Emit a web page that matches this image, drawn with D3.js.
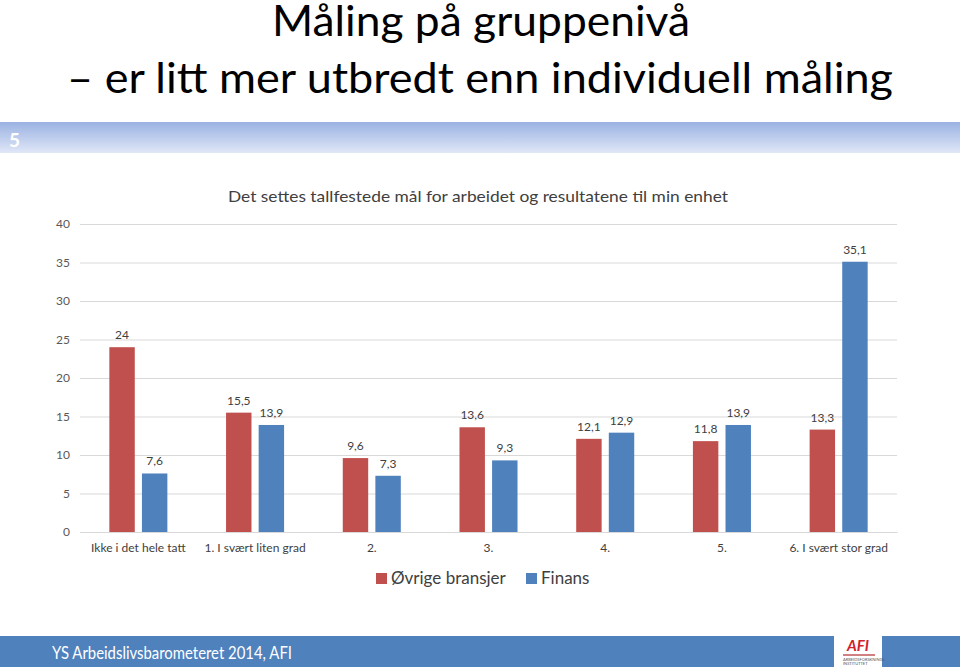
<!DOCTYPE html>
<html><head><meta charset="utf-8">
<script src="https://cdn.jsdelivr.net/npm/d3@7"></script>
<style>body{margin:0;background:#fff}svg{display:block}</style>
</head><body>
<script>
const categories = ["Ikke i det hele tatt","1. I svært liten grad","2.","3.","4.","5.","6. I svært stor grad"];
const ovrige = [24, 15.5, 9.6, 13.6, 12.1, 11.8, 13.3];
const finans = [7.6, 13.9, 7.3, 9.3, 12.9, 13.9, 35.1];
const seriesNames = ["Øvrige bransjer","Finans"];
const yTicks = [0,5,10,15,20,25,30,35,40];

(function(){
const W=960,H=671;
const font = "Lato, 'Open Sans', sans-serif";
const svg = d3.select("body").append("svg").attr("width",W).attr("height",H);

// Title
svg.append("text").attr("x",272).attr("y",36)
  .attr("font-family",font).attr("font-size",43).attr("fill","#000")
  .attr("textLength",418).attr("lengthAdjust","spacingAndGlyphs").text("Måling på gruppenivå");
svg.append("text").attr("x",67).attr("y",93)
  .attr("font-family",font).attr("font-size",43).attr("fill","#000")
  .attr("textLength",826).attr("lengthAdjust","spacingAndGlyphs").text("– er litt mer utbredt enn individuell måling");

// Header band
const defs = svg.append("defs");
const g1 = defs.append("linearGradient").attr("id","band").attr("x1",0).attr("y1",0).attr("x2",0).attr("y2",1);
g1.append("stop").attr("offset","0%").attr("stop-color","#9ab2e2");
g1.append("stop").attr("offset","100%").attr("stop-color","#e0e7f7");
svg.append("rect").attr("x",0).attr("y",122).attr("width",W).attr("height",31).attr("fill","url(#band)");
svg.append("text").attr("x",9).attr("y",147).attr("font-family",font).attr("font-weight","bold")
  .attr("font-size",19).attr("fill","#fff").text("5");

// Footer
svg.append("rect").attr("x",0).attr("y",636).attr("width",W).attr("height",31).attr("fill","#4f81bd");
svg.append("text").attr("x",52).attr("y",659).attr("font-family",font).attr("font-size",17)
  .attr("textLength",240).attr("lengthAdjust","spacingAndGlyphs")
  .attr("fill","#fff").text("YS Arbeidslivsbarometeret 2014, AFI");
svg.append("rect").attr("x",834).attr("y",636).attr("width",48).attr("height",31).attr("fill","#fff");
svg.append("text").attr("x",858).attr("y",651).attr("text-anchor","middle").attr("font-family",font)
  .attr("font-style","italic").attr("font-weight","bold").attr("font-size",15).attr("fill","#d0202a").text("AFI");
svg.append("rect").attr("x",843).attr("y",654).attr("width",32).attr("height",2).attr("fill","#d08080");
svg.append("text").attr("x",843).attr("y",661).attr("font-family",font).attr("font-size",4).attr("fill","#555").text("ARBEIDSFORSKNINGS");
svg.append("text").attr("x",843).attr("y",665).attr("font-family",font).attr("font-size",4).attr("fill","#555").text("INSTITUTTET");

// Chart
const pl=80,pr=897,pt=224,pb=532;
const x0 = d3.scaleBand().domain(categories).range([pl,pr]).paddingInner(0).paddingOuter(0);
const x1 = d3.scaleBand().domain(seriesNames).range([0,x0.bandwidth()]).paddingInner(0.22).paddingOuter(0.9);
const y = d3.scaleLinear().domain([0,40]).range([pb,pt]);
const colors = {"Øvrige bransjer":"#c0504d","Finans":"#4f81bd"};

svg.append("text").attr("x",228).attr("y",202).attr("font-family",font)
  .attr("font-size",16).attr("textLength",500).attr("lengthAdjust","spacingAndGlyphs")
  .attr("fill","#404040").text("Det settes tallfestede mål for arbeidet og resultatene til min enhet");

const yAxis = svg.append("g").attr("transform",`translate(${pl},0)`)
  .call(d3.axisLeft(y).tickValues(yTicks).tickSize(-(pr-pl)).tickPadding(10));
yAxis.select(".domain").remove();
yAxis.selectAll(".tick line").attr("stroke","#d9d9d9");
yAxis.selectAll(".tick text").attr("font-family",font).attr("font-size",12).attr("fill","#595959");

const data = categories.map((c,i)=>({cat:c, vals:[{s:seriesNames[0],v:ovrige[i]},{s:seriesNames[1],v:finans[i]}]}));
const groups = svg.selectAll(".grp").data(data).join("g").attr("class","grp").attr("transform",d=>`translate(${x0(d.cat)},0)`);
groups.selectAll("rect").data(d=>d.vals).join("rect")
  .attr("x",d=>x1(d.s)).attr("width",x1.bandwidth())
  .attr("y",d=>y(d.v)).attr("height",d=>y(0)-y(d.v)).attr("fill",d=>colors[d.s]);
groups.selectAll("text.lbl").data(d=>d.vals).join("text").attr("class","lbl")
  .attr("x",d=>x1(d.s)+x1.bandwidth()/2).attr("y",d=>y(d.v)-8).attr("text-anchor","middle")
  .attr("font-family",font).attr("font-size",12).attr("fill","#404040")
  .text(d=>String(d.v).replace(".",","));

// x axis
const xAxis = svg.append("g").attr("transform",`translate(0,${pb})`)
  .call(d3.axisBottom(x0).tickSize(0).tickPadding(11));
xAxis.select(".domain").attr("stroke","#d9d9d9");
xAxis.selectAll(".tick text").attr("font-family",font).attr("font-size",12).attr("fill","#404040");

// Legend
const leg = svg.append("g");
const legItems = [{n:seriesNames[0],x:376},{n:seriesNames[1],x:526}];
legItems.forEach(it=>{
  leg.append("rect").attr("x",it.x).attr("y",573).attr("width",11).attr("height",11).attr("fill",colors[it.n]);
  leg.append("text").attr("x",it.x+15).attr("y",584).attr("font-family",font).attr("font-size",17)
    .attr("fill","#404040").text(it.n);
});
})();
</script>
</body></html>
